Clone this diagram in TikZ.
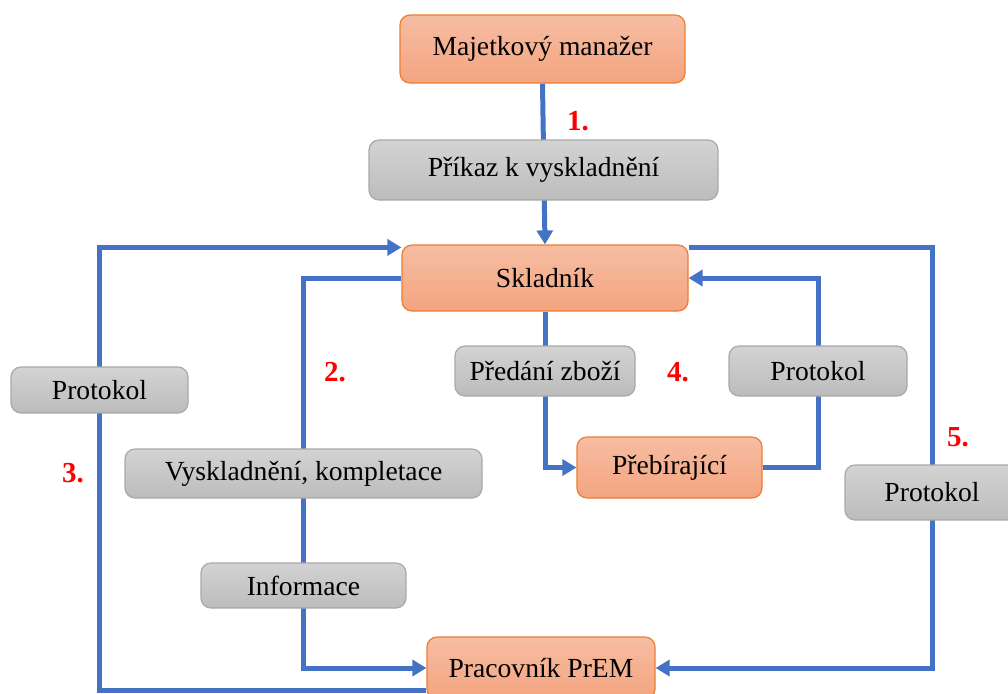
\documentclass[tikz,border=0pt]{standalone}
\usepackage{fontspec}
\setmainfont{Liberation Serif}
\usetikzlibrary{arrows.meta,backgrounds}
\definecolor{oranzova}{HTML}{ED7D31}
\definecolor{oranzhore}{HTML}{F6BDA3}
\definecolor{oranzdole}{HTML}{F4A47F}
\definecolor{sedahore}{HTML}{D3D3D3}
\definecolor{sedadole}{HTML}{BCBCBC}
\definecolor{sedaokraj}{HTML}{A9A9A9}
\definecolor{modra}{HTML}{4472C4}

\begin{document}
\begin{tikzpicture}[x=0.5pt,y=-0.5pt,
    font=\fontsize{13.8}{16}\selectfont,
    osoba/.style={draw=oranzova,line width=0.6pt,rounded corners=5pt,
      top color=oranzhore,bottom color=oranzdole,inner sep=0pt},
    doklad/.style={draw=sedaokraj,line width=0.6pt,rounded corners=5pt,
      top color=sedahore,bottom color=sedadole,inner sep=0pt},
    tok/.style={draw=modra,line width=2.5pt,-{Triangle[width=8pt,length=7pt]}},
    krok/.style={text=red,font=\fontsize{14.5}{16}\selectfont\bfseries}]
    \useasboundingbox (0,0) rectangle (1008,693); % okraje obrazku

    % osoby
    \node[osoba,minimum width=142.5pt,minimum height=34pt] (manazer) at (542.5,49) {Majetkový manažer};
    \node[osoba,minimum width=143pt,minimum height=33pt] (skladnik) at (545,278) {Skladník};
    \node[osoba,minimum width=92.5pt,minimum height=30.5pt] (preb) at (669.5,467.5) {Přebírající};
    \node[osoba,minimum width=114pt,minimum height=31pt] (prac) at (541,668) {Pracovník PrEM};

    % doklady
    \node[doklad,minimum width=174.5pt,minimum height=30pt] (prikaz) at (543.5,170) {Příkaz k vyskladnění};
    \node[doklad,minimum width=88.5pt,minimum height=23pt] (protL) at (99.5,390) {Protokol};
    \node[doklad,minimum width=178.5pt,minimum height=24.5pt] (vysk) at (303.5,473.5) {Vyskladnění, kompletace};
    \node[doklad,minimum width=102.5pt,minimum height=22.5pt] (info) at (303.5,585.5) {Informace};
    \node[doklad,minimum width=90pt,minimum height=25pt] (predani) at (545,371) {Předání zboží};
    \node[doklad,minimum width=89pt,minimum height=25pt] (protM) at (818,371) {Protokol};
    \node[doklad,minimum width=87pt,minimum height=27.5pt] (protR) at (932,492.5) {Protokol};

    % cisla kroku
    \node[krok] (k1) at (578,121) {1.};
    \node[krok] (k2) at (335,372) {2.};
    \node[krok] (k3) at (73,473) {3.};
    \node[krok] (k4) at (678,372) {4.};
    \node[krok] (k5) at (958,437) {5.};

    % toky pod doklady
    \begin{scope}[on background layer]
      \draw[tok] (manazer.south) -- (skladnik.north); % krok 1
      \draw[tok] (skladnik.west) -| (vysk.center) |- (prac.west); % krok 2
      \draw[tok] ([yshift=4.5pt]prac.south west) -| (protL.center)
                 |- ([yshift=-1.5pt]skladnik.north west); % krok 3
      \draw[tok] (skladnik.south) |- (preb.west); % krok 4
      \draw[tok] (preb.east) -| (protM.center) |- (skladnik.east); % krok 4 zpet
      \draw[tok] ([yshift=-1.5pt]skladnik.north east) -| (protR.center)
                 |- (prac.east); % krok 5
    \end{scope}
\end{tikzpicture}
\end{document}
